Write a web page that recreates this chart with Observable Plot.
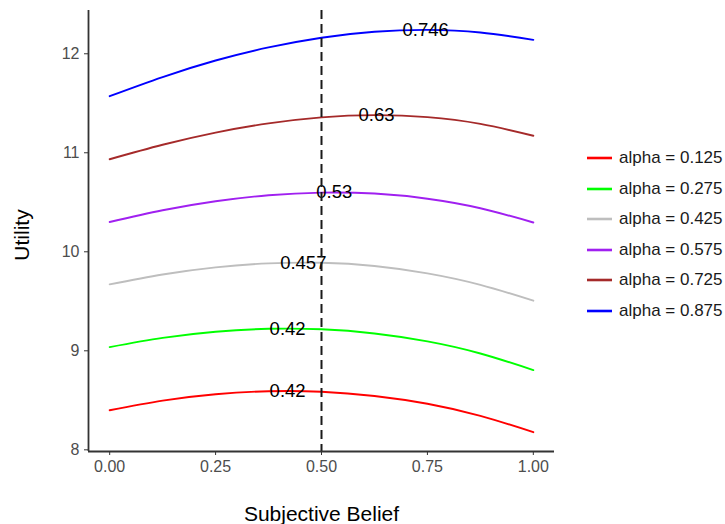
<!DOCTYPE html>
<html>
<head>
<meta charset="utf-8">
<script src="https://cdn.jsdelivr.net/npm/d3@7"></script>
<script src="https://cdn.jsdelivr.net/npm/@observablehq/plot@0.6"></script>
<style>
  html, body { margin: 0; padding: 0; background: #ffffff; }
  body { font-family: "Liberation Sans", Arial, Helvetica, sans-serif; }
  #wrap { position: relative; width: 725px; height: 524px; overflow: hidden; }
  #chart { position: absolute; left: 0; top: 0; }
  #legend { position: absolute; left: 0; top: 0; width: 725px; height: 524px; pointer-events: none; }
  .item { position: absolute; height: 20px; line-height: 20px; font-size: 17px; color: #1a1a1a; white-space: nowrap; }
  .item svg { position: absolute; left: 0; top: 0; }
  .item span { position: absolute; left: 32px; top: 0; }
  g[aria-label="x-axis tick"], g[aria-label="y-axis tick"] { stroke: #333333; }
</style>
</head>
<body>
<div id="wrap">
  <div id="chart"></div>
  <div id="legend"></div>
</div>
<script>
// ---- data ----
const alphas = [0.125, 0.275, 0.425, 0.575, 0.725, 0.875];
const seriesColors = ["#FF0000", "#00FF00", "#BEBEBE", "#A020F0", "#A52A2A", "#0000FF"];
const beliefGrid = [0, 0.125, 0.25, 0.375, 0.5, 0.625, 0.75, 0.875, 1];

const utilityA0125 = [8.400, 8.497, 8.561, 8.592, 8.587, 8.544, 8.465, 8.343, 8.178];
const utilityA0275 = [9.037, 9.130, 9.192, 9.222, 9.217, 9.175, 9.095, 8.973, 8.805];
const utilityA0425 = [9.671, 9.771, 9.843, 9.883, 9.889, 9.857, 9.782, 9.666, 9.506];
const utilityA0575 = [10.301, 10.419, 10.510, 10.571, 10.598, 10.588, 10.536, 10.440, 10.296];
const utilityA0725 = [10.935, 11.081, 11.204, 11.297, 11.358, 11.380, 11.360, 11.292, 11.172];
const utilityA0875 = [11.572, 11.765, 11.932, 12.064, 12.162, 12.222, 12.241, 12.215, 12.140];

const peakBelief = [0.42, 0.42, 0.457, 0.53, 0.63, 0.746];
const peakUtility = [8.594, 9.224, 9.891, 10.599, 11.380, 12.241];
const peakLabels = ["0.42", "0.42", "0.457", "0.53", "0.63", "0.746"];

const referenceBelief = [0.5];
const xTicks = [0, 0.25, 0.5, 0.75, 1];
const yTicks = [8, 9, 10, 11, 12];
const xDomain = [-0.05, 1.05];
const yDomain = [7.983, 12.437];
const xTitle = "Subjective Belief";
const yTitle = "Utility";

// ---- build tables ----
const seriesValues = [utilityA0125, utilityA0275, utilityA0425, utilityA0575, utilityA0725, utilityA0875];
const seriesNames = alphas.map(a => "alpha = " + d3.format(".3f")(a));

const rows = [];
seriesValues.forEach((vals, i) => {
  beliefGrid.forEach((b, j) => rows.push({series: seriesNames[i], belief: b, utility: vals[j]}));
});

const peaks = peakBelief.map((b, i) => ({belief: b, utility: peakUtility[i], label: peakLabels[i]}));

const chart = Plot.plot({
  width: 570,
  height: 524,
  marginLeft: 88,
  marginRight: 16,
  marginTop: 10,
  marginBottom: 73,
  style: {fontFamily: "'Liberation Sans', Arial, Helvetica, sans-serif", background: "#ffffff"},
  x: {domain: xDomain},
  y: {domain: yDomain},
  color: {domain: seriesNames, range: seriesColors},
  marks: [
    Plot.line(rows, {x: "belief", y: "utility", z: "series", stroke: "series", curve: "natural", strokeWidth: 1.9}),
    Plot.text(peaks, {x: "belief", y: "utility", text: "label", fontSize: 18.5, fill: "#000000", textAnchor: "middle", lineAnchor: "middle"}),
    Plot.ruleX(referenceBelief, {stroke: "#1a1a1a", strokeWidth: 2, strokeDasharray: "9,5"}),
    Plot.ruleX([xDomain[0]], {stroke: "#333333", strokeWidth: 1.8}),
    Plot.ruleY([yDomain[0]], {stroke: "#333333", strokeWidth: 1.8}),
    Plot.axisX({ticks: xTicks, tickSize: 4, tickPadding: 5, tickFormat: d3.format(".2f"), fontSize: 16, color: "#4d4d4d", label: null}),
    Plot.axisY({ticks: yTicks, tickSize: 4, tickPadding: 5, tickFormat: d3.format("d"), fontSize: 16, color: "#4d4d4d", label: null}),
    Plot.text([xTitle], {frameAnchor: "bottom", dy: 63, fontSize: 21, fill: "#000000", textAnchor: "middle", lineAnchor: "middle", text: d => d}),
    Plot.text([yTitle], {frameAnchor: "left", dx: -66, dy: 4, rotate: -90, fontSize: 21, fill: "#000000", textAnchor: "middle", lineAnchor: "middle", text: d => d})
  ]
});
document.getElementById("chart").appendChild(chart);

// ---- legend (right side) ----
const legend = document.getElementById("legend");
const legendTop = 158, legendStep = 30.6, legendLeft = 587;
seriesNames.forEach((name, i) => {
  const item = document.createElement("div");
  item.className = "item";
  item.style.left = legendLeft + "px";
  item.style.top = (legendTop + i * legendStep - 10) + "px";
  item.innerHTML = `<svg width="26" height="20"><line x1="0" x2="25" y1="10" y2="10" stroke="${seriesColors[i]}" stroke-width="2.6"/></svg><span>${name}</span>`;
  legend.appendChild(item);
});
</script>
</body>
</html>
